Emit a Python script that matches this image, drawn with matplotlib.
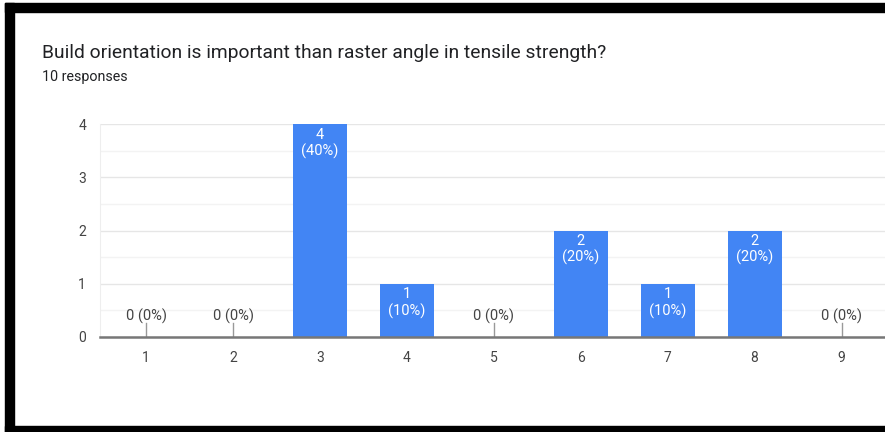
import matplotlib.pyplot as plt
from matplotlib.patches import Rectangle

plt.rcParams["font.family"] = ["Roboto", "DejaVu Sans"]

# ── Data ──────────────────────────────────────────────────────────────────────

CHOICES = [1, 2, 3, 4, 5, 6, 7, 8, 9]
COUNTS = [0, 0, 4, 1, 0, 2, 1, 2, 0]
TOTAL = 10

TITLE = "Build orientation is important than raster angle in tensile strength?"
SUBTITLE = f"{TOTAL} responses"

BAR_COLOR = "#4285F4"
TEXT_COLOR = "#444444"

# ── Plot ──────────────────────────────────────────────────────────────────────

W, H = 885, 432
fig = plt.figure(figsize=(W / 100, H / 100), dpi=100)
ax = fig.add_axes([100 / W, 1 - 337 / H, 1 - 100 / W, (337 - 124) / H])

ax.bar(CHOICES, COUNTS, width=0.62, color=BAR_COLOR, zorder=3)

for x, c in zip(CHOICES, COUNTS):
    pct = round(c / TOTAL * 100)
    if c > 0:
        ax.text(x, c - 0.07, f"{c}\n({pct}%)", ha="center", va="top",
                color="white", fontsize=10.5, linespacing=1.15, zorder=4)
    else:
        ax.plot([x, x], [0, 0.27], color="#999999", lw=1, zorder=4)
        ax.text(x, 0.25, f"{c} ({pct}%)", ha="center", va="bottom",
                color=TEXT_COLOR, fontsize=10.5, zorder=4)

ax.set_xlim(0.47, 9.5)
ax.set_ylim(0, 4)
ax.set_xticks(CHOICES)
ax.set_yticks(range(0, 5))
ax.set_yticks([0.5, 1.5, 2.5, 3.5], minor=True)
ax.tick_params(axis="both", length=0, labelsize=10, labelcolor=TEXT_COLOR)
ax.tick_params(axis="x", pad=10)
ax.tick_params(axis="y", pad=10)
ax.tick_params(which="minor", length=0)

ax.grid(axis="y", which="major", color="#e6e6e6", lw=1, zorder=0)
ax.grid(axis="y", which="minor", color="#f3f3f3", lw=1, zorder=0)
for side in ["top", "right"]:
    ax.spines[side].set_visible(False)
ax.spines["left"].set_color("#eeeeee")
ax.spines["bottom"].set_color("#777777")
ax.spines["bottom"].set_linewidth(1.8)
ax.spines["bottom"].set_zorder(5)

fig.text(42 / W, 1 - 53 / H, TITLE, fontsize=13.9, color="#202124",
         ha="left", va="center")
fig.text(42 / W, 1 - 77 / H, SUBTITLE, fontsize=10.3, color="#202124",
         ha="left", va="center")

# black frame around the card
for (x0, y0, x1, y1) in [(5, 3, 885, 12), (5, 3, 14, 432), (5, 426, 885, 432)]:
    fig.patches.append(Rectangle((x0 / W, 1 - y1 / H), (x1 - x0) / W, (y1 - y0) / H,
                                 transform=fig.transFigure, color="black", zorder=10))

fig.savefig("out.png", dpi=100)
